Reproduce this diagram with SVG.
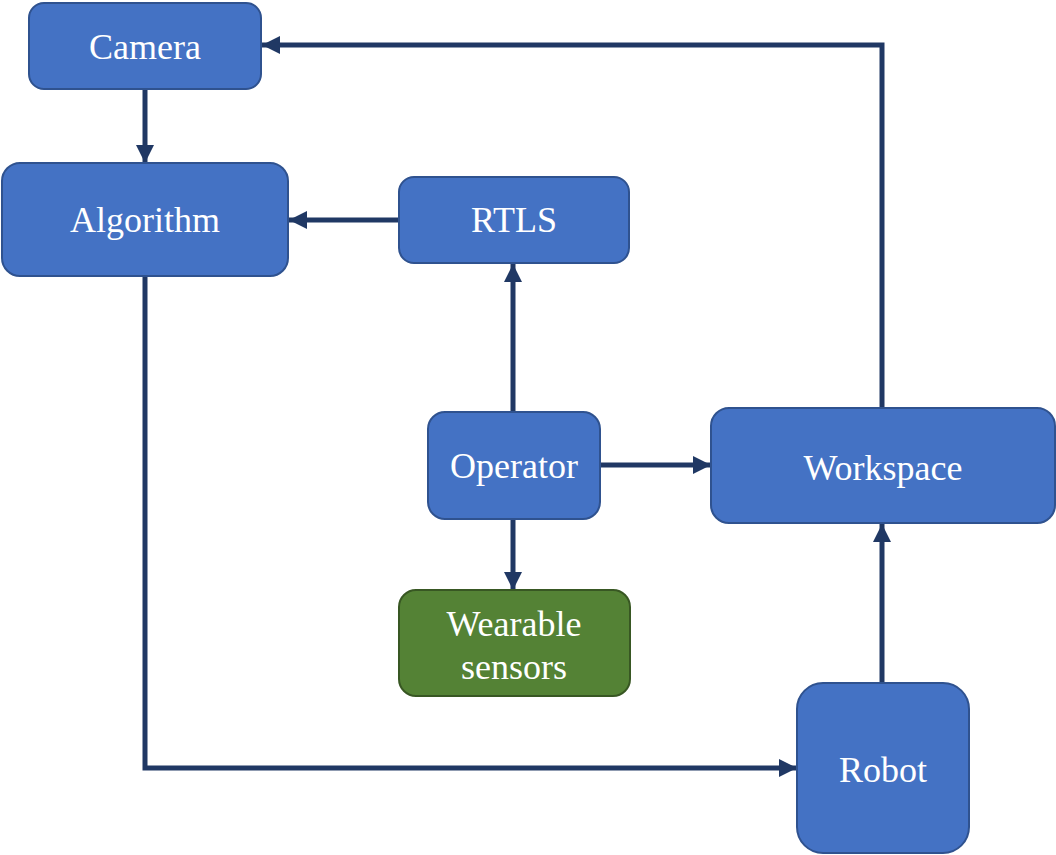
<svg xmlns="http://www.w3.org/2000/svg" width="1056" height="855" viewBox="0 0 1056 855">
  <defs>
    <marker id="arrow" viewBox="0 0 10 10" refX="10" refY="5" markerWidth="3.6" markerHeight="3.8" markerUnits="strokeWidth" orient="auto">
      <path d="M0,0 L10,5 L0,10 z" fill="#203864"/>
    </marker>
    <style>
      .box { fill: #4472C4; stroke: #2F528F; stroke-width: 2; }
      .green { fill: #548235; stroke: #385723; stroke-width: 2; }
      .label { font-family: "Liberation Serif", "Times New Roman", serif; font-size: 36px; fill: #ffffff; text-anchor: middle; }
      .link { fill: none; stroke: #203864; stroke-width: 5; marker-end: url(#arrow); }
    </style>
  </defs>
  <rect width="1056" height="855" fill="#ffffff"/>

  <g id="connectors">
    <path class="link" d="M145,89 V163"/>
    <path class="link" d="M399,220 H289"/>
    <path class="link" d="M513,412 V264"/>
    <path class="link" d="M600,465 H711"/>
    <path class="link" d="M513,519 V590"/>
    <path class="link" d="M882,408 V45 H262"/>
    <path class="link" d="M145,276 V768 H797"/>
    <path class="link" d="M882,683 V524"/>
  </g>

  <g id="camera">
    <rect class="box" x="29" y="3" width="232" height="86" rx="15"/>
    <text class="label" x="145" y="59">Camera</text>
  </g>
  <g id="algorithm">
    <rect class="box" x="2" y="163" width="286" height="113" rx="18"/>
    <text class="label" x="145" y="232">Algorithm</text>
  </g>
  <g id="rtls">
    <rect class="box" x="399" y="177" width="230" height="86" rx="15"/>
    <text class="label" x="514" y="232">RTLS</text>
  </g>
  <g id="operator">
    <rect class="box" x="428" y="412" width="172" height="107" rx="17"/>
    <text class="label" x="514" y="478">Operator</text>
  </g>
  <g id="workspace">
    <rect class="box" x="711" y="408" width="344" height="115" rx="18"/>
    <text class="label" x="883" y="480">Workspace</text>
  </g>
  <g id="wearable-sensors">
    <rect class="green" x="399" y="590" width="231" height="106" rx="17"/>
    <text class="label" x="514" y="636">Wearable</text>
    <text class="label" x="514" y="679">sensors</text>
  </g>
  <g id="robot">
    <rect class="box" x="797" y="683" width="172" height="170" rx="26"/>
    <text class="label" x="883" y="782">Robot</text>
  </g>
</svg>
